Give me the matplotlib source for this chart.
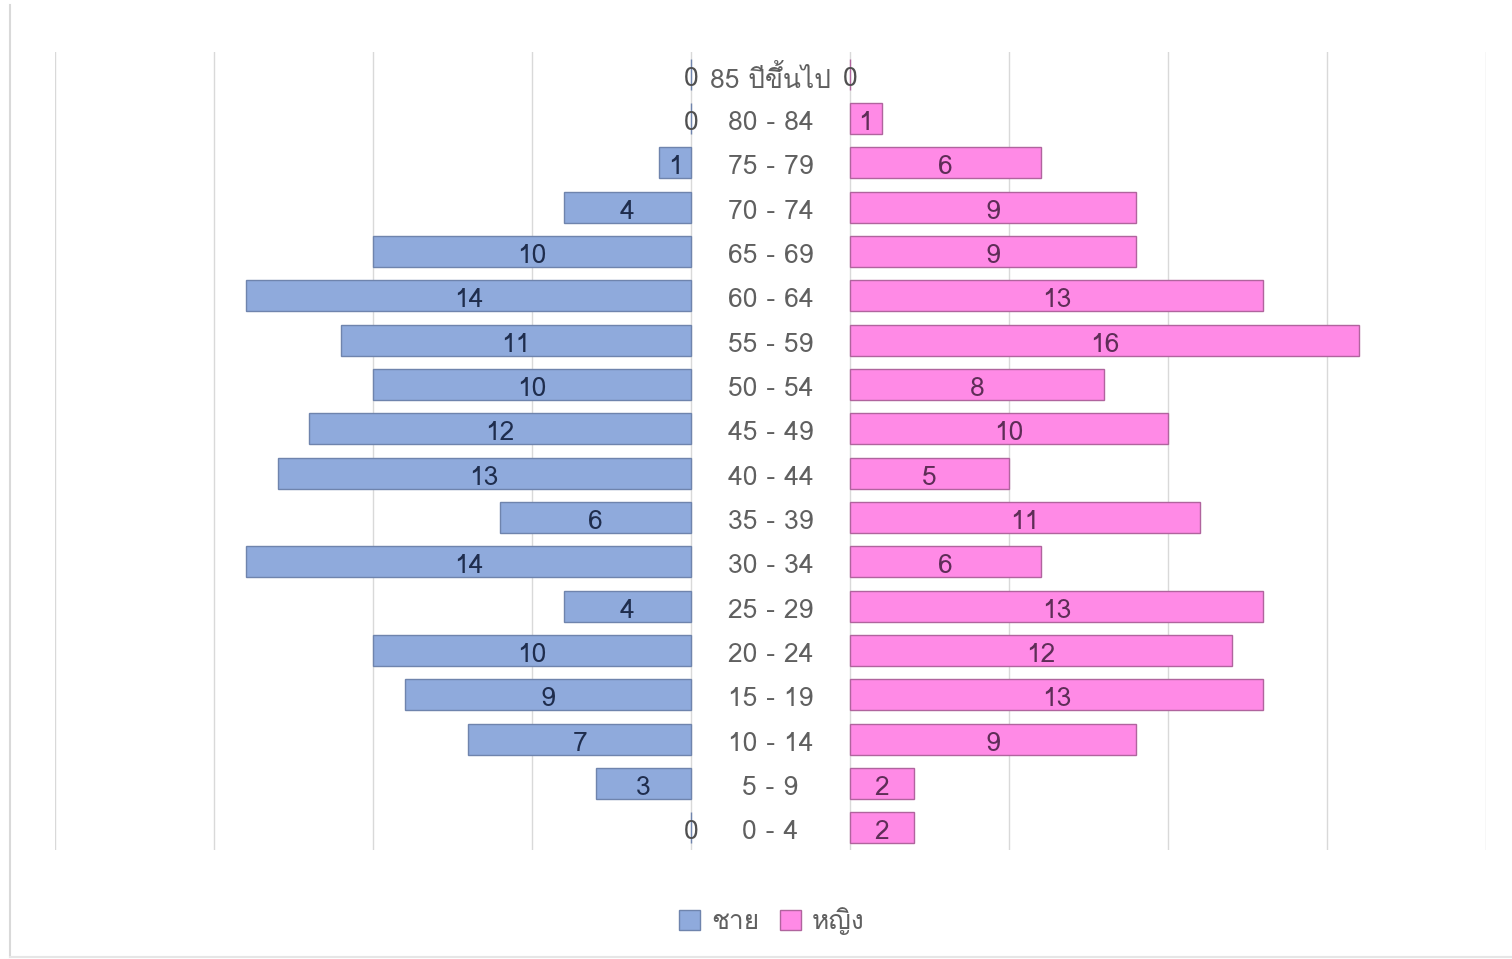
import matplotlib
matplotlib.use('Agg')
import matplotlib.pyplot as plt
from matplotlib.lines import Line2D
from matplotlib.patches import Patch

# age groups, bottom to top
ages = ['0 - 4', '5 - 9', '10 - 14', '15 - 19', '20 - 24', '25 - 29', '30 - 34',
        '35 - 39', '40 - 44', '45 - 49', '50 - 54', '55 - 59', '60 - 64',
        '65 - 69', '70 - 74', '75 - 79', '80 - 84', '85 ปีขึ้นไป']
male = [0, 3, 7, 9, 10, 4, 14, 6, 13, 12, 10, 11, 14, 10, 4, 1, 0, 0]
female = [2, 2, 9, 13, 12, 13, 6, 11, 5, 10, 8, 16, 13, 9, 9, 6, 1, 0]
series_names = ['ชาย', 'หญิง']

plt.rcParams['font.family'] = ['Loma', 'DejaVu Sans']

gap = 5  # space between the two halves, in data units
male_color = '#8faadc'
female_color = '#ff8ae6'
male_edge = '#6f84ad'
female_edge = '#b0649e'

fig = plt.figure(figsize=(15.12, 9.59), dpi=100)
ax = fig.add_axes([55 / 1512, 1 - 850 / 959, (1486 - 55) / 1512, (850 - 52) / 959])

y = list(range(len(ages)))
ax.barh(y, [-v for v in male], height=0.7, color=male_color,
        edgecolor=male_edge, linewidth=1, zorder=3)
ax.barh(y, female, left=gap, height=0.7, color=female_color,
        edgecolor=female_edge, linewidth=1, zorder=3)

fs = 19
for i in y:
    ax.text(-male[i] / 2, i - 0.1, str(male[i]), ha='center', va='center',
            fontsize=fs, color='#1f2d4d' if male[i] else '#505050', zorder=4)
    ax.text(gap + female[i] / 2, i - 0.1, str(female[i]), ha='center', va='center',
            fontsize=fs, color='#5e2d57' if female[i] else '#505050', zorder=4)
    ax.text(gap / 2, i - 0.1, ages[i], ha='center', va='center',
            fontsize=fs, color='#606060', zorder=4)

ax.set_xlim(-20, 25)
ax.set_ylim(-0.5, len(ages) - 0.5)
ax.set_xticks(range(-20, 26, 5))
ax.set_yticks([])
ax.tick_params(axis='x', length=0, labelbottom=False)
ax.grid(axis='x', color='#d9d9d9', linewidth=1, zorder=0)
for s in ax.spines.values():
    s.set_visible(False)

handles = [Patch(facecolor=male_color, edgecolor=male_edge),
           Patch(facecolor=female_color, edgecolor=female_edge)]
fig.legend(handles, series_names, loc='center', ncol=2,
           bbox_to_anchor=(772 / 1512, 1 - 921 / 959), frameon=False,
           fontsize=fs, labelcolor='#606060', handlelength=0.8,
           handleheight=0.8, handletextpad=0.4, columnspacing=0.8)

# faint chart border on left and bottom
fig.add_artist(Line2D([10 / 1512, 10 / 1512], [2 / 959, 1 - 5 / 959],
                      color='#d9d9d9', linewidth=1.5))
fig.add_artist(Line2D([10 / 1512, 1], [2 / 959, 2 / 959],
                      color='#e6e6e6', linewidth=1.5))

plt.savefig('out.png', dpi=100)
